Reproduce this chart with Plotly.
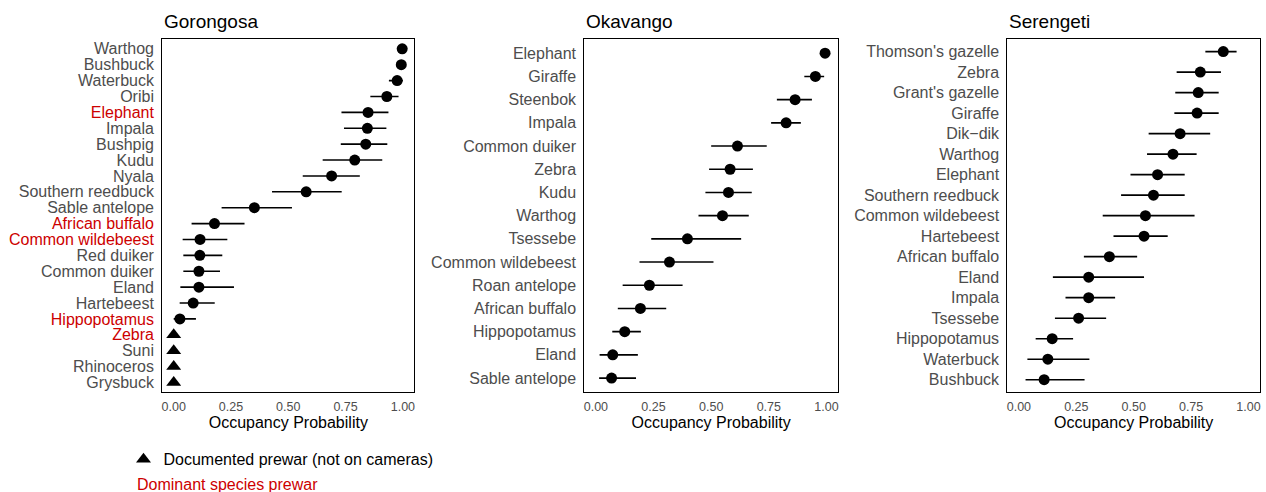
import plotly.graph_objects as go

W, H = 1266, 492
FONT = "Liberation Sans, Arial, Helvetica, sans-serif"
GRAY = "#4D4D4D"
RED = "#CD0000"

# ---------------- data (top to bottom) ----------------
gor_species = ["Warthog", "Bushbuck", "Waterbuck", "Oribi", "Elephant", "Impala", "Bushpig",
               "Kudu", "Nyala", "Southern reedbuck", "Sable antelope", "African buffalo",
               "Common wildebeest", "Red duiker", "Common duiker", "Eland", "Hartebeest",
               "Hippopotamus"]
gor_mean = [0.997, 0.993, 0.975, 0.930, 0.848, 0.845, 0.838, 0.790, 0.689, 0.578, 0.352,
            0.178, 0.115, 0.114, 0.110, 0.110, 0.085, 0.027]
gor_lo = [0.990, 0.975, 0.939, 0.858, 0.732, 0.743, 0.729, 0.650, 0.563, 0.429, 0.209,
          0.078, 0.039, 0.042, 0.042, 0.029, 0.026, 0.000]
gor_hi = [1.000, 1.000, 1.000, 0.981, 0.937, 0.928, 0.932, 0.910, 0.812, 0.733, 0.516,
          0.309, 0.234, 0.212, 0.202, 0.263, 0.179, 0.097]
gor_documented = ["Zebra", "Suni", "Rhinoceros", "Grysbuck"]
gor_documented_val = [0.0, 0.0, 0.0, 0.0]
gor_dominant = ["Elephant", "African buffalo", "Common wildebeest", "Hippopotamus", "Zebra"]

oka_species = ["Elephant", "Giraffe", "Steenbok", "Impala", "Common duiker", "Zebra", "Kudu",
               "Warthog", "Tsessebe", "Common wildebeest", "Roan antelope", "African buffalo",
               "Hippopotamus", "Eland", "Sable antelope"]
oka_mean = [0.994, 0.952, 0.864, 0.825, 0.614, 0.582, 0.575, 0.549, 0.397, 0.319, 0.232,
            0.193, 0.125, 0.073, 0.068]
oka_lo = [0.990, 0.904, 0.785, 0.760, 0.500, 0.491, 0.475, 0.445, 0.240, 0.189, 0.116,
          0.095, 0.071, 0.016, 0.014]
oka_hi = [0.999, 0.990, 0.937, 0.889, 0.741, 0.681, 0.676, 0.663, 0.630, 0.510, 0.376,
          0.305, 0.195, 0.182, 0.174]

ser_species = ["Thomson's gazelle", "Zebra", "Grant's gazelle", "Giraffe", "Dik\u2212dik",
               "Warthog", "Elephant", "Southern reedbuck", "Common wildebeest", "Hartebeest",
               "African buffalo", "Eland", "Impala", "Tsessebe", "Hippopotamus", "Waterbuck",
               "Bushbuck"]
ser_mean = [0.890, 0.790, 0.781, 0.776, 0.702, 0.671, 0.604, 0.586, 0.551, 0.545, 0.394,
            0.304, 0.304, 0.260, 0.145, 0.126, 0.110]
ser_lo = [0.812, 0.687, 0.681, 0.677, 0.565, 0.558, 0.486, 0.445, 0.365, 0.412, 0.283,
          0.148, 0.203, 0.157, 0.073, 0.037, 0.029]
ser_hi = [0.948, 0.880, 0.870, 0.870, 0.833, 0.774, 0.722, 0.722, 0.765, 0.648, 0.515,
          0.545, 0.419, 0.380, 0.236, 0.307, 0.286]

panel_titles = ["Gorongosa", "Okavango", "Serengeti"]
x_ticks = [0, 0.25, 0.5, 0.75, 1.0]
x_ticklabels = ["0.00", "0.25", "0.50", "0.75", "1.00"]

# ---------------- layout geometry ----------------
x_domains = [[161.5 / W, 414.0 / W], [584.3 / W, 838.3 / W], [1008.0 / W, 1261.0 / W]]
y_domain = [1 - 392.0 / H, 1 - 39.3 / H]

fig = go.Figure()


def add_panel(k, species, mean, lo, hi, documented=None, documented_val=None, dominant=()):
    all_species = list(species) + list(documented or [])
    n = len(all_species)
    ypos = {s: n - 1 - i for i, s in enumerate(all_species)}
    xa = "x" if k == 1 else f"x{k}"
    ya = "y" if k == 1 else f"y{k}"
    fig.add_trace(go.Scatter(
        x=mean, y=[ypos[s] for s in species], mode="markers",
        marker=dict(symbol="circle", size=11, color="black"),
        error_x=dict(type="data", symmetric=False,
                     array=[h - m for h, m in zip(hi, mean)],
                     arrayminus=[m - l for m, l in zip(mean, lo)],
                     color="black", thickness=1.6, width=0),
        xaxis=xa, yaxis=ya, showlegend=False, hoverinfo="skip"))
    if documented:
        fig.add_trace(go.Scatter(
            x=documented_val, y=[ypos[s] for s in documented], mode="markers",
            marker=dict(symbol="triangle-up", size=13, color="black"),
            xaxis=xa, yaxis=ya, showlegend=True,
            name="Documented prewar (not on cameras)", hoverinfo="skip"))
    ticktext = [f"<span style='color:{RED}'>{s}</span>" if s in dominant else s
                for s in all_species]
    xkey = "xaxis" if k == 1 else f"xaxis{k}"
    ykey = "yaxis" if k == 1 else f"yaxis{k}"
    fig.update_layout(**{
        xkey: dict(domain=x_domains[k - 1], anchor=ya, range=[-0.05, 1.05],
                   tickvals=x_ticks, ticktext=x_ticklabels, ticks="",
                   ticklabelstandoff=3,
                   tickfont=dict(size=12.5, color=GRAY, family=FONT),
                   showgrid=False, zeroline=False, showline=True, mirror=True,
                   linecolor="black", linewidth=1.2,
                   title=dict(text="Occupancy Probability", standoff=2,
                              font=dict(size=16, color="black", family=FONT))),
        ykey: dict(domain=y_domain, anchor=xa, range=[-0.6, n - 1 + 0.6],
                   tickvals=[ypos[s] for s in all_species], ticktext=ticktext,
                   ticks="", ticklabelstandoff=4,
                   tickfont=dict(size=16, color=GRAY, family=FONT),
                   showgrid=False, zeroline=False, showline=True, mirror=True,
                   linecolor="black", linewidth=1.2),
    })
    fig.add_annotation(text=panel_titles[k - 1], xref="paper", yref="paper",
                       x=x_domains[k - 1][0], y=1 - 21.0 / H, xanchor="left",
                       yanchor="middle", showarrow=False,
                       font=dict(size=19, color="black", family=FONT))


add_panel(1, gor_species, gor_mean, gor_lo, gor_hi, gor_documented, gor_documented_val,
          gor_dominant)
add_panel(2, oka_species, oka_mean, oka_lo, oka_hi)
add_panel(3, ser_species, ser_mean, ser_lo, ser_hi)

fig.add_annotation(text="Dominant species prewar", xref="paper", yref="paper",
                   x=134.0 / W, y=1 - 484.0 / H, xanchor="left", yanchor="middle",
                   showarrow=False, font=dict(size=16, color=RED, family=FONT))

fig.update_layout(
    width=W, height=H,
    margin=dict(l=0, r=0, t=0, b=0),
    paper_bgcolor="white", plot_bgcolor="white",
    font=dict(family=FONT),
    showlegend=True,
    legend=dict(x=(142.7 - 20) / W, y=1 - 459.3 / H, xanchor="left", yanchor="middle",
                bgcolor="rgba(0,0,0,0)", borderwidth=0,
                font=dict(size=16, color="black", family=FONT)),
)

fig.write_html("out.html")
